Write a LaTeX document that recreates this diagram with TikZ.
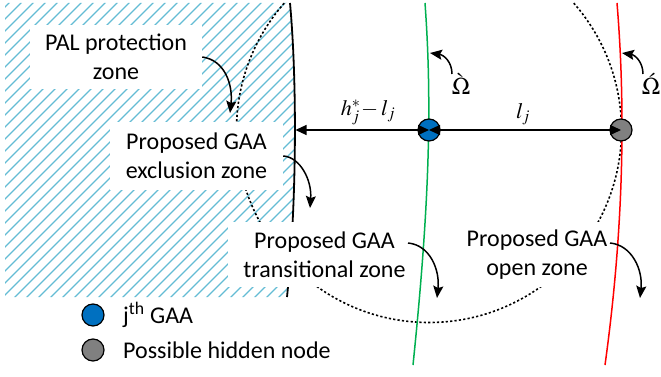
\documentclass[tikz,border=0pt]{standalone}
\usepackage{mathptmx}
\usepackage[no-math]{fontspec}
\setmainfont{Carlito}
\usetikzlibrary{arrows.meta}
\definecolor{hatchblue}{RGB}{100,188,212}
\definecolor{zgreen}{RGB}{0,176,80}
\definecolor{zred}{RGB}{255,0,0}
\definecolor{gaablue}{RGB}{0,112,192}
\definecolor{hidgrey}{RGB}{128,128,128}
\begin{document}
\begin{tikzpicture}[x=1pt,y=-1pt,
  lbl/.style={fill=white, inner sep=0pt, align=center, font=\fontsize{24}{29}\selectfont},
  mathlbl/.style={inner sep=0pt, font=\fontsize{22}{26}\selectfont},
  omlbl/.style={inner sep=0pt, font=\fontsize{24}{28}\selectfont},
  dotnode/.style={circle, draw=black, line width=1.2pt, minimum size=22pt, inner sep=0pt},
  callout/.style={-{Stealth[length=12pt,width=10pt,inset=2pt]}, line width=1.5pt},
  dimline/.style={{Triangle[length=11pt,width=10pt]}-{Triangle[length=11pt,width=10pt]}, line width=1.2pt},
  circdash/.style={dash pattern=on 2.2pt off 2.2pt, line width=1.6pt},
  legtext/.style={anchor=west, inner sep=0pt, font=\fontsize{24}{29}\selectfont},
  hatchline/.style={hatchblue, line width=1.3pt}
]
\path[use as bounding box] (0,0) rectangle (661,377);
% hatched PAL protection area
\begin{scope}
\clip (5,3) -- (290,3) .. controls (297,80) and (297,200) .. (287,297) -- (5,297) -- cycle;
\foreach \i in {-300,-288,...,300} \draw[hatchline] (\i,300) -- ++(300,-300);
\end{scope}
% boundary of PAL zone
\draw[line width=1.8pt] (290,3) .. controls (297,80) and (297,200) .. (287,297);
\coordinate (bnd) at (295.5,130);
% dashed circle around the GAA
\coordinate (ctr) at (429,130);
\begin{scope}
\clip (0,3) rectangle (661,377);
\draw[circdash] (ctr) circle[radius=192.5pt];
\end{scope}
% labels
\node[lbl, minimum width=172pt, minimum height=64pt] (pal) at (116,57) {PAL protection\\zone};
\node[lbl, minimum width=173pt, minimum height=68pt] (excl) at (196.5,156) {Proposed GAA\\exclusion zone};
\node[lbl, minimum width=193pt, minimum height=65pt] (trans) at (324.5,254.5) {Proposed GAA\\transitional zone};
\node[lbl, minimum width=172pt, minimum height=65pt] (open) at (537,254.5) {Proposed GAA\\open zone};
% green and red boundaries
\draw[zgreen, line width=1.5pt] (425,3) .. controls (432,100) and (430,200) .. (413,365);
\draw[zred, line width=1.5pt] (617,3) .. controls (625,100) and (625,220) .. (605,365);
% nodes
\node[dotnode, fill=gaablue] (gaa) at (ctr) {};
\node[dotnode, fill=hidgrey] (hid) at (621,130) {};
\draw[dimline] (bnd) -- (gaa.center);
\draw[dimline] (gaa.center) -- (hid.center);
% math labels
\node[mathlbl] (hl) at (368,112) {$h_j^{*}\!-l_j$};
\node[mathlbl] (lj) at (523,114) {$l_j$};
\node[omlbl] (om1) at (461,84) {$\grave{\Omega}$};
\node[omlbl] (om2) at (651,84) {$\acute{\Omega}$};
% callout arrows
\coordinate (palTip) at (230,113);
\coordinate (exclTip) at (310,208);
\coordinate (transFrom) at (408,243);
\coordinate (transTip) at (437,298);
\coordinate (openFrom) at (610,243);
\coordinate (openTip) at (640,298);
\coordinate (omAFrom) at (452,74);
\coordinate (omATip) at (430,53);
\coordinate (omBFrom) at (643,74);
\coordinate (omBTip) at (622,53);
\draw[callout] (pal.east) .. controls (225,60) and (233,85) .. (palTip);
\draw[callout] (excl.east) .. controls (300,157) and (312,180) .. (exclTip);
\draw[callout] (transFrom) .. controls (430,245) and (440,270) .. (transTip);
\draw[callout] (openFrom) .. controls (632,245) and (643,270) .. (openTip);
\draw[callout] (omAFrom) .. controls (452,62) and (444,55) .. (omATip);
\draw[callout] (omBFrom) .. controls (643,62) and (635,55) .. (omBTip);
% legend
\node[dotnode, fill=gaablue] (legA) at (93,315) {};
\node[legtext] (legAt) at (123,315) {j\textsuperscript{th} GAA};
\node[dotnode, fill=hidgrey] (legB) at (93,350) {};
\node[legtext] (legBt) at (123,350) {Possible hidden node};
\end{tikzpicture}
\end{document}
